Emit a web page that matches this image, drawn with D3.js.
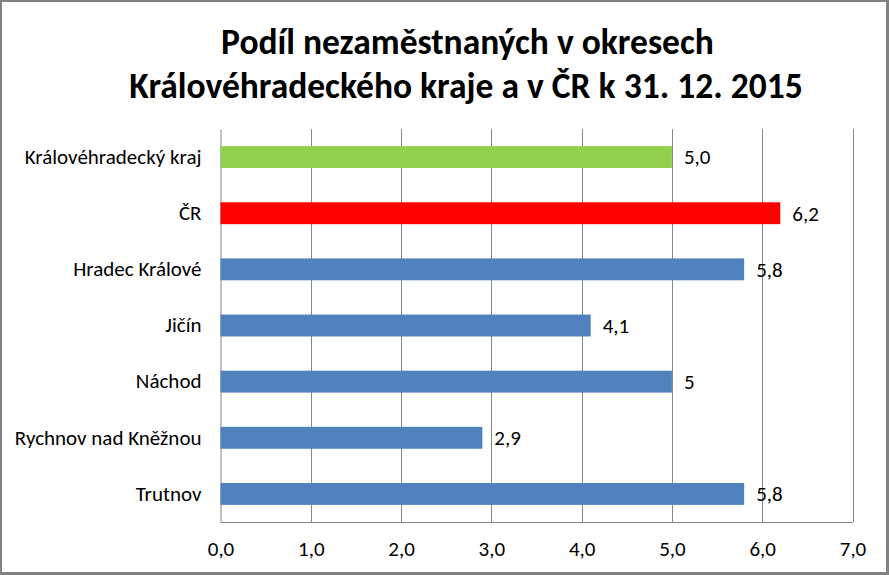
<!DOCTYPE html>
<html><head><meta charset="utf-8">
<script src="https://cdn.jsdelivr.net/npm/d3@7"></script>
<style>html,body{margin:0;padding:0;background:#fff}svg{display:block}</style>
</head><body>
<script>
const categories = ["Královéhradecký kraj","ČR","Hradec Králové","Jičín","Náchod","Rychnov nad Kněžnou","Trutnov"];
const values = [5.0, 6.2, 5.8, 4.1, 5.0, 2.9, 5.8];
const valueLabels = ["5,0","6,2","5,8","4,1","5","2,9","5,8"];
const barColors = ["#92d050","#ff0000","#4f81bd","#4f81bd","#4f81bd","#4f81bd","#4f81bd"];
const xTicks = [0,1,2,3,4,5,6,7];
const titleLines = ["Podíl nezaměstnaných v okresech","Královéhradeckého kraje a v ČR k 31. 12. 2015"];

const W=889,H=575;
const font = "Carlito, Lato, sans-serif";
const svg = d3.select("body").append("svg").attr("width",W).attr("height",H);
svg.append("rect").attr("x",0).attr("y",0).attr("width",W).attr("height",H).attr("fill","#828282");
svg.append("rect").attr("x",2).attr("y",2).attr("width",884).attr("height",570).attr("fill","#fff");

const plot = {left:220.5,right:852.5,top:129,bottom:522};
const x = d3.scaleLinear().domain([0,7]).range([plot.left,plot.right]);
const y = d3.scaleBand().domain(categories).range([plot.top,plot.bottom]).paddingInner(0.61).paddingOuter(0.305);

svg.append("g").selectAll("text").data(titleLines).join("text")
  .attr("x",(d,i)=>i?466:467.5).attr("y",(d,i)=>54+i*44).attr("text-anchor","middle")
  .attr("font-family",font).attr("font-weight","bold").attr("font-size",35.5).attr("fill","#000").text(d=>d);

// gridlines
svg.append("g").selectAll("line").data(xTicks.slice(1)).join("line")
  .attr("x1",d=>Math.round(x(d))+0.5).attr("x2",d=>Math.round(x(d))+0.5)
  .attr("y1",plot.top).attr("y2",plot.bottom).attr("stroke","#868686").attr("stroke-width",1);

// axes
const xAxis = d3.axisBottom(x).tickValues(xTicks).tickSize(0).tickPadding(19).tickFormat(d=>d3.format(".1f")(d).replace(".",","));
const gx = svg.append("g").attr("transform",`translate(0,${plot.bottom})`).call(xAxis);
gx.select(".domain").attr("stroke","#868686");
gx.selectAll("text").attr("font-family",font).attr("font-size",21).attr("fill","#000");

const yAxis = d3.axisLeft(y).tickSize(0).tickPadding(19);
const gy = svg.append("g").attr("transform",`translate(${plot.left},0)`).call(yAxis);
gy.select(".domain").attr("stroke","#868686");
gy.selectAll("text").attr("font-family",font).attr("font-size",21).attr("fill","#000");

// bars
svg.append("g").selectAll("rect").data(values).join("rect")
  .attr("x",x(0)).attr("y",(d,i)=>y(categories[i])).attr("width",d=>x(d)-x(0))
  .attr("height",y.bandwidth()).attr("fill",(d,i)=>barColors[i]);

// value labels
svg.append("g").selectAll("text").data(values).join("text")
  .attr("x",d=>x(d)+12).attr("y",(d,i)=>y(categories[i])+y.bandwidth()/2).attr("dy","0.35em")
  .attr("font-family",font).attr("font-size",21).attr("fill","#000").text((d,i)=>valueLabels[i]);
</script>
</body></html>
